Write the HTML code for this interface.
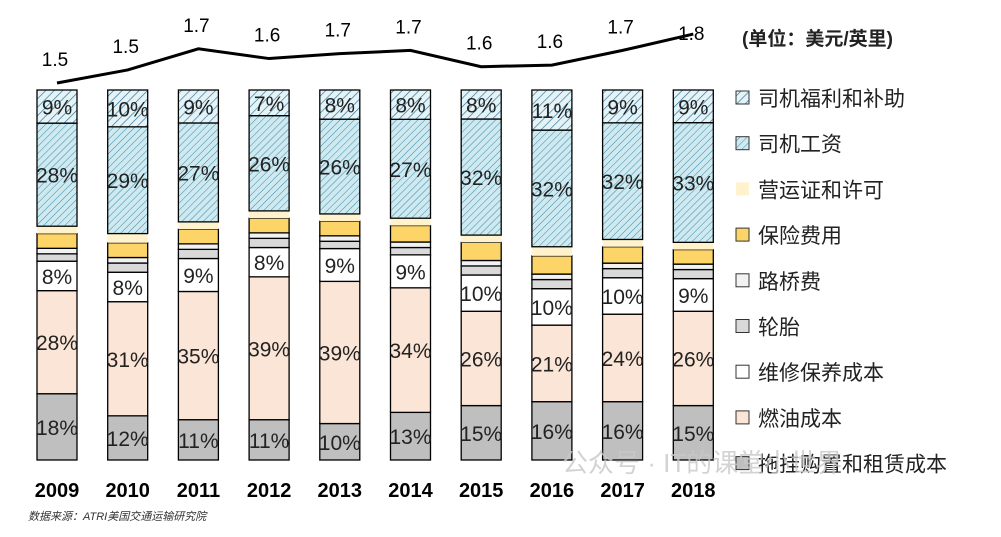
<!DOCTYPE html>
<html><head><meta charset="utf-8"><style>
body{margin:0;background:#fff;width:1001px;height:532px;overflow:hidden;font-family:"Liberation Sans","Noto Sans CJK SC",sans-serif}
</style></head><body>
<svg id="c" width="1001" height="532" xmlns="http://www.w3.org/2000/svg">
<defs>
<pattern id="h1" patternUnits="userSpaceOnUse" width="6" height="6" patternTransform="rotate(45)"><rect width="6" height="6" fill="#e4f3f7"/><line x1="0" y1="0" x2="0" y2="6" stroke="#2b6f8f" stroke-width="1.3"/></pattern>
<pattern id="h2" patternUnits="userSpaceOnUse" width="5" height="5" patternTransform="rotate(45)"><rect width="5" height="5" fill="#cfe9f0"/><line x1="0" y1="0" x2="0" y2="5" stroke="#3b8aa5" stroke-width="1"/></pattern>
</defs>
</svg>
<script>
const years=["2009","2010","2011","2012","2013","2014","2015","2016","2017","2018"];
const seriesNames=["拖挂购置和租赁成本","燃油成本","维修保养成本","轮胎","路桥费","保险费用","营运证和许可","司机工资","司机福利和补助"];
const trailer=[18,12,11,11,10,13,15,16,16,15];
const fuel=[28,31,35,39,39,34,26,21,24,26];
const repair=[8,8,9,8,9,9,10,10,10,9];
const tires=[2,2.5,2.5,2.5,2,2,2.5,2.5,2.5,2.5];
const tolls=[1.5,1.5,1.5,1.5,1.5,1.5,1.5,1.5,1.5,1.5];
const insurance=[4,4,4,4,4,4.5,5,5,4.5,4];
const permits=[2,2.5,2,2,2,2,2,2.5,2,2];
const wages=[28,29,27,26,26,27,32,32,32,33];
const benefits=[9,10,9,7,8,8,8,11,9,9];
const trailerLbl=["18%","12%","11%","11%","10%","13%","15%","16%","16%","15%"];
const fuelLbl=["28%","31%","35%","39%","39%","34%","26%","21%","24%","26%"];
const repairLbl=["8%","8%","9%","8%","9%","9%","10%","10%","10%","9%"];
const wagesLbl=["28%","29%","27%","26%","26%","27%","32%","32%","32%","33%"];
const benefitsLbl=["9%","10%","9%","7%","8%","8%","8%","11%","9%","9%"];
const costPerMile=[1.5,1.58,1.71,1.65,1.68,1.7,1.6,1.61,1.7,1.8];
const costLbl=["1.5","1.5","1.7","1.6","1.7","1.7","1.6","1.6","1.7","1.8"];

const NS="http://www.w3.org/2000/svg",svg=document.getElementById('c');
function mk(t,a,p){const e=document.createElementNS(NS,t);for(const k in a)e.setAttribute(k,a[k]);(p||svg).appendChild(e);return e;}
const x0=57,dx=70.7,bw=40,yBot=460,yTop=90;
const xS=i=>x0+i*dx;
const yS=p=>yBot-p/100*(yBot-yTop);
const lineY=v=>83-(v-1.5)*163;
const series=[trailer,fuel,repair,tires,tolls,insurance,permits,wages,benefits];
const labels=[trailerLbl,fuelLbl,repairLbl,null,null,null,null,wagesLbl,benefitsLbl];
const fills=["#bfbfbf","#fbe5d6","#ffffff","#d9d9d9","#f2f2f2","#fcd468","#fff2cc","url(#h2)","url(#h1)"];
const strokes=["#000","#000","#000","#000","#000","#000","none","#000","#000"];
const keys=["trailer","fuel","repair","tires","tolls","insurance","permits","wages","benefits"];
years.forEach((yr,i)=>{
  const g=mk('g',{});
  
  
  let tot=0;series.forEach(s=>tot+=s[i]);
  let cum=0;
  series.forEach((s,k)=>{
    const v=s[i]/tot*100;
    const y1=yS(cum),y2=yS(cum+v);
    const r=mk('rect',{x:xS(i)-bw/2,y:y2,width:bw,height:y1-y2,fill:fills[k],stroke:strokes[k],'stroke-width':1.3},g);
    
    
    if(labels[k]){
      const t=mk('text',{x:xS(i),y:(y1+y2)/2+8,'text-anchor':'middle','font-size':21,fill:'#222'},g);
      t.textContent=labels[k][i];
      
      
    }
    cum+=v;
  });
  const xl=mk('text',{x:xS(i),y:497,'text-anchor':'middle','font-size':20,'font-weight':'bold',fill:'#000'});
  xl.textContent=yr;
  
  
});
let d='';costPerMile.forEach((v,i)=>{d+=(i?'L':'M')+xS(i)+' '+lineY(v);});
const ln=mk('path',{d:d,fill:'none',stroke:'#000','stroke-width':3});


costPerMile.forEach((v,i)=>{
  const t=mk('text',{x:xS(i)-2,y:lineY(v)-(i==9?-6:17),'text-anchor':'middle','font-size':19,fill:'#000'});
  t.textContent=costLbl[i];
  
  
});
const u=mk('text',{x:742,y:45,'font-size':19,'font-weight':'bold',fill:'#222'});
u.textContent='(单位：美元/英里)';


for(let j=0;j<9;j++){
  const k=8-j,y=98+j*45.7;
  const g=mk('g',{});
  
  
  mk('rect',{x:736,y:y-7,width:13,height:13,fill:fills[k],stroke:k==6?'none':'#333','stroke-width':1},g);
  const t=mk('text',{x:758,y:y+8,'font-size':21,fill:'#222'},g);
  t.textContent=seriesNames[k];
}
const src=mk('text',{x:28,y:520,'font-size':11,'font-style':'italic',fill:'#333'});
src.textContent='数据来源：ATRI美国交通运输研究院';


const wm=mk('text',{x:562,y:472,'font-size':26,fill:'#c8c8c8','fill-opacity':0.8});
wm.textContent='公众号 · IT的课堂小世界';


</script>
</body></html>
